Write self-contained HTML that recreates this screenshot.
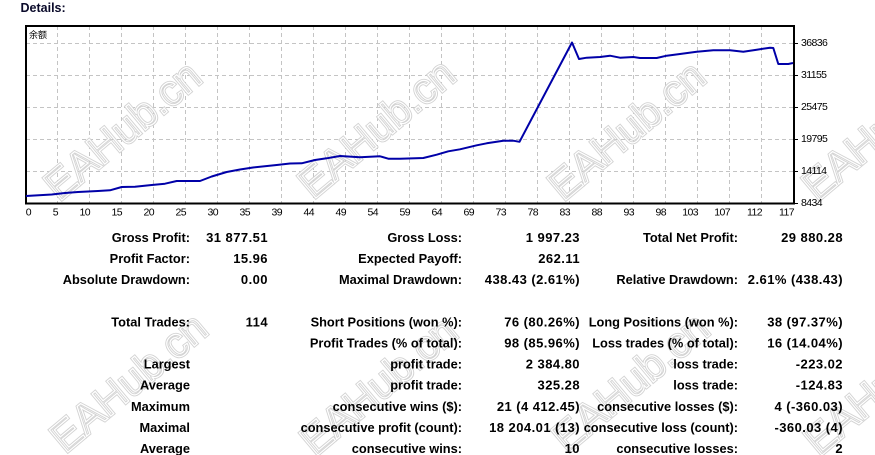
<!DOCTYPE html>
<html>
<head>
<meta charset="utf-8">
<style>
  html,body{margin:0;padding:0;background:#fff;}
  body{width:875px;height:455px;overflow:hidden;}
  svg{display:block;}
  .wm{font-family:"Liberation Sans",sans-serif;font-size:42px;font-weight:normal;}
  .lb{font-family:"Liberation Sans",sans-serif;font-size:12.8px;font-weight:bold;fill:#000;}
  .vl{font-family:"Liberation Sans",sans-serif;font-size:13px;font-weight:bold;fill:#000;letter-spacing:0.45px;}
  .ax{font-family:"Liberation Sans",sans-serif;font-size:10.5px;fill:#000;letter-spacing:-0.6px;}
</style>
</head>
<body>
<svg width="875" height="455" viewBox="0 0 875 455" xmlns="http://www.w3.org/2000/svg">
  <rect x="0" y="0" width="875" height="455" fill="#fff"/>

  <text x="20.5" y="12" font-family="Liberation Sans, sans-serif" font-size="12.5" font-weight="bold" fill="#0a0a2a">Details:</text>

  <g stroke="#c4c4c4" stroke-width="1" stroke-dasharray="4,3" fill="none">
    <line x1="26" y1="43.5" x2="794" y2="43.5"/>
    <line x1="26" y1="75.5" x2="794" y2="75.5"/>
    <line x1="26" y1="107.5" x2="794" y2="107.5"/>
    <line x1="26" y1="139.5" x2="794" y2="139.5"/>
    <line x1="26" y1="171.5" x2="794" y2="171.5"/>
    <line x1="57.5" y1="26" x2="57.5" y2="203"/>
    <line x1="89.5" y1="26" x2="89.5" y2="203"/>
    <line x1="121.5" y1="26" x2="121.5" y2="203"/>
    <line x1="153.5" y1="26" x2="153.5" y2="203"/>
    <line x1="185.5" y1="26" x2="185.5" y2="203"/>
    <line x1="217.5" y1="26" x2="217.5" y2="203"/>
    <line x1="249.5" y1="26" x2="249.5" y2="203"/>
    <line x1="281.5" y1="26" x2="281.5" y2="203"/>
    <line x1="313.5" y1="26" x2="313.5" y2="203"/>
    <line x1="345.5" y1="26" x2="345.5" y2="203"/>
    <line x1="377.5" y1="26" x2="377.5" y2="203"/>
    <line x1="409.5" y1="26" x2="409.5" y2="203"/>
    <line x1="441.5" y1="26" x2="441.5" y2="203"/>
    <line x1="473.5" y1="26" x2="473.5" y2="203"/>
    <line x1="505.5" y1="26" x2="505.5" y2="203"/>
    <line x1="537.5" y1="26" x2="537.5" y2="203"/>
    <line x1="569.5" y1="26" x2="569.5" y2="203"/>
    <line x1="601.5" y1="26" x2="601.5" y2="203"/>
    <line x1="633.5" y1="26" x2="633.5" y2="203"/>
    <line x1="665.5" y1="26" x2="665.5" y2="203"/>
    <line x1="697.5" y1="26" x2="697.5" y2="203"/>
    <line x1="729.5" y1="26" x2="729.5" y2="203"/>
    <line x1="761.5" y1="26" x2="761.5" y2="203"/>
  </g>

  <g class="wm" text-anchor="middle" fill="none">
    <g stroke="#d2d2d2" stroke-width="3">
      <text x="122" y="145" transform="rotate(-40 122 130)">EAHub.cn</text>
      <text x="376" y="143" transform="rotate(-40 376 128)">EAHub.cn</text>
      <text x="626" y="145" transform="rotate(-40 626 130)">EAHub.cn</text>
      <text x="880" y="145" transform="rotate(-40 880 130)">EAHub.cn</text>
      <text x="128" y="397" transform="rotate(-40 128 382)">EAHub.cn</text>
      <text x="378" y="400" transform="rotate(-40 378 385)">EAHub.cn</text>
      <text x="630" y="397" transform="rotate(-40 630 382)">EAHub.cn</text>
      <text x="882" y="400" transform="rotate(-40 882 385)">EAHub.cn</text>
    </g>
    <g stroke="#fff" stroke-width="1.2">
      <text x="122" y="145" transform="rotate(-40 122 130)">EAHub.cn</text>
      <text x="376" y="143" transform="rotate(-40 376 128)">EAHub.cn</text>
      <text x="626" y="145" transform="rotate(-40 626 130)">EAHub.cn</text>
      <text x="880" y="145" transform="rotate(-40 880 130)">EAHub.cn</text>
      <text x="128" y="397" transform="rotate(-40 128 382)">EAHub.cn</text>
      <text x="378" y="400" transform="rotate(-40 378 385)">EAHub.cn</text>
      <text x="630" y="397" transform="rotate(-40 630 382)">EAHub.cn</text>
      <text x="882" y="400" transform="rotate(-40 882 385)">EAHub.cn</text>
    </g>
  </g>

  <rect x="26" y="26" width="768" height="177.5" fill="none" stroke="#000" stroke-width="2"/>

  <g stroke="#000" stroke-width="1">
    <line x1="795" y1="43.5" x2="798" y2="43.5"/>
    <line x1="795" y1="75.5" x2="798" y2="75.5"/>
    <line x1="795" y1="107.5" x2="798" y2="107.5"/>
    <line x1="795" y1="139.5" x2="798" y2="139.5"/>
    <line x1="795" y1="171.5" x2="798" y2="171.5"/>
    <line x1="795" y1="203.5" x2="798" y2="203.5"/>
  </g>

  <text x="29" y="38" font-family="Liberation Sans, Noto Sans CJK SC, sans-serif" font-size="9" fill="#000">余额</text>

  <polyline fill="none" stroke="#0000a8" stroke-width="2" stroke-linejoin="round"
    points="26,196 51.7,194.5 65,193 78,192 98,191 110,190.3 121.7,187 135,186.7 151.7,185 165,183.7 176.7,181 200,181 211.7,176.5 226.7,172 240,169.5 253,167.5 276.7,165 290,163.5 301.7,163.3 315,160 326.7,158.3 340,156 360,157.3 380,156.3 388.3,158.7 400,158.7 423.3,158 436.7,154.7 448.3,151.3 460,149.3 476.7,145.3 486.7,143.3 503.3,140.7 513.3,140.7 519.5,141.8 572,42.5 579,59 586.7,57.7 600,57 610,55.7 620,57.7 633.3,57 640,58 656.7,58 666.7,55.7 680,54 696.7,51.7 713.3,50.3 730,50.3 743.3,51.7 756.7,49.7 770,47.7 773.3,48 778.3,64 788.3,64 793,63"/>

  <g class="ax">
    <text x="801" y="45.8">36836</text>
    <text x="801" y="77.8">31155</text>
    <text x="801" y="109.8">25475</text>
    <text x="801" y="141.8">19795</text>
    <text x="801" y="173.8">14114</text>
    <text x="801" y="205.8">8434</text>
  </g>

  <g class="ax" text-anchor="end">
    <text x="31" y="215.3">0</text>
    <text x="58" y="215.3">5</text>
    <text x="90" y="215.3">10</text>
    <text x="122" y="215.3">15</text>
    <text x="154" y="215.3">20</text>
    <text x="186" y="215.3">25</text>
    <text x="218" y="215.3">30</text>
    <text x="250" y="215.3">35</text>
    <text x="282" y="215.3">39</text>
    <text x="314" y="215.3">44</text>
    <text x="346" y="215.3">49</text>
    <text x="378" y="215.3">54</text>
    <text x="410" y="215.3">59</text>
    <text x="442" y="215.3">64</text>
    <text x="474" y="215.3">69</text>
    <text x="506" y="215.3">73</text>
    <text x="538" y="215.3">78</text>
    <text x="570" y="215.3">83</text>
    <text x="602" y="215.3">88</text>
    <text x="634" y="215.3">93</text>
    <text x="666" y="215.3">98</text>
    <text x="698" y="215.3">103</text>
    <text x="730" y="215.3">107</text>
    <text x="762" y="215.3">112</text>
    <text x="794" y="215.3">117</text>
  </g>

  <g class="lb" text-anchor="end">
    <text x="190" y="242">Gross Profit:</text>
    <text x="462" y="242">Gross Loss:</text>
    <text x="738" y="242">Total Net Profit:</text>

    <text x="190" y="263.1">Profit Factor:</text>
    <text x="462" y="263.1">Expected Payoff:</text>

    <text x="190" y="284.2">Absolute Drawdown:</text>
    <text x="462" y="284.2">Maximal Drawdown:</text>
    <text x="738" y="284.2">Relative Drawdown:</text>

    <text x="190" y="326.4">Total Trades:</text>
    <text x="462" y="326.4">Short Positions (won %):</text>
    <text x="738" y="326.4">Long Positions (won %):</text>

    <text x="462" y="347.5">Profit Trades (% of total):</text>
    <text x="738" y="347.5">Loss trades (% of total):</text>

    <text x="190" y="368.6">Largest</text>
    <text x="462" y="368.6">profit trade:</text>
    <text x="738" y="368.6">loss trade:</text>

    <text x="190" y="389.7">Average</text>
    <text x="462" y="389.7">profit trade:</text>
    <text x="738" y="389.7">loss trade:</text>

    <text x="190" y="410.8">Maximum</text>
    <text x="462" y="410.8">consecutive wins ($):</text>
    <text x="738" y="410.8">consecutive losses ($):</text>

    <text x="190" y="431.9">Maximal</text>
    <text x="462" y="431.9">consecutive profit (count):</text>
    <text x="738" y="431.9">consecutive loss (count):</text>

    <text x="190" y="453">Average</text>
    <text x="462" y="453">consecutive wins:</text>
    <text x="738" y="453">consecutive losses:</text>
  </g>

  <g class="vl" text-anchor="end">
    <text x="268" y="242">31 877.51</text>
    <text x="580" y="242">1 997.23</text>
    <text x="843" y="242">29 880.28</text>

    <text x="268" y="263.1">15.96</text>
    <text x="580" y="263.1">262.11</text>

    <text x="268" y="284.2">0.00</text>
    <text x="580" y="284.2">438.43 (2.61%)</text>
    <text x="843" y="284.2">2.61% (438.43)</text>

    <text x="268" y="326.4">114</text>
    <text x="580" y="326.4">76 (80.26%)</text>
    <text x="843" y="326.4">38 (97.37%)</text>

    <text x="580" y="347.5">98 (85.96%)</text>
    <text x="843" y="347.5">16 (14.04%)</text>

    <text x="580" y="368.6">2 384.80</text>
    <text x="843" y="368.6">-223.02</text>

    <text x="580" y="389.7">325.28</text>
    <text x="843" y="389.7">-124.83</text>

    <text x="580" y="410.8">21 (4 412.45)</text>
    <text x="843" y="410.8">4 (-360.03)</text>

    <text x="580" y="431.9">18 204.01 (13)</text>
    <text x="843" y="431.9">-360.03 (4)</text>

    <text x="580" y="453">10</text>
    <text x="843" y="453">2</text>
  </g>
</svg>
</body>
</html>
